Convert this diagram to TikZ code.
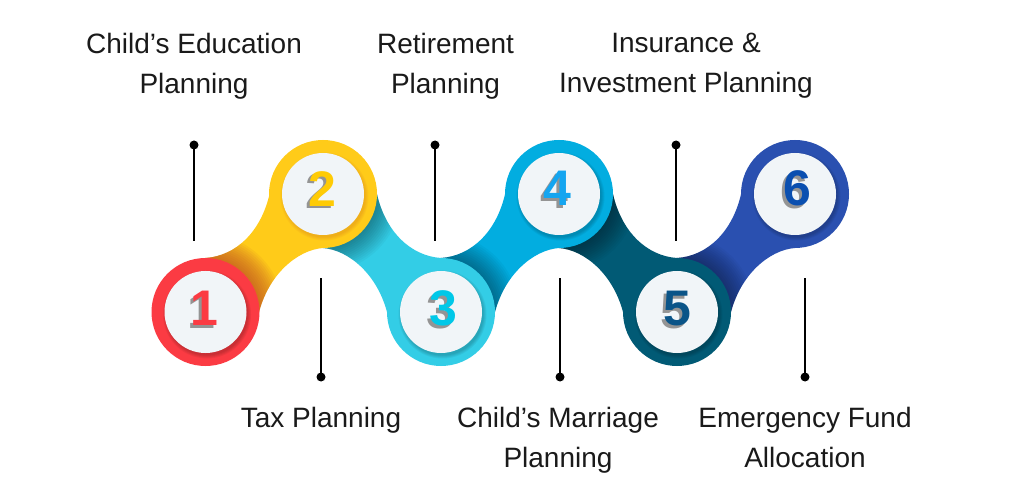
\documentclass[tikz,border=0pt]{standalone}
\usepackage{fontspec}
\setmainfont{Liberation Sans}
\definecolor{cA}{HTML}{FB3B43}
\definecolor{cB}{HTML}{FFCB19}
\definecolor{cC}{HTML}{33CDE6}
\definecolor{cD}{HTML}{02ADE0}
\definecolor{cE}{HTML}{015A75}
\definecolor{cF}{HTML}{2A50B0}
\definecolor{dA}{HTML}{FB3B43}
\definecolor{dB}{HTML}{FFCB05}
\definecolor{dC}{HTML}{00C8E8}
\definecolor{dD}{HTML}{14A5F0}
\definecolor{dE}{HTML}{0A5488}
\definecolor{dF}{HTML}{0A4FB0}
\definecolor{disc}{HTML}{F1F5F8}
\definecolor{ink}{HTML}{1A1A1A}
\definecolor{warmshade}{HTML}{B8402A}
\tikzset{
  x=1pt,y=-1pt,
  label text/.style={font=\fontsize{28}{40}\selectfont,text=ink,align=center,inner sep=0pt},
  leader/.style={draw=black,line width=1.8pt},
  pin dot/.style={circle,fill=black,minimum size=9pt,inner sep=0pt},
  face/.style={circle,fill=disc,minimum size=82pt,inner sep=0pt},
  numeral/.style={font=\fontsize{50}{50}\bfseries\selectfont,inner sep=0pt},
}
\newcommand{\ls}{\rule[-8pt]{0pt}{28pt}}
\newcommand{\linkpath}[3]{(#1,258) .. controls (#1+30*#3,256) and (#1+56*#3,232) .. (#1+64.5*#3,192) -- (#2,194) -- (#2,248) .. controls (#2-26*#3,250) and (#2-55*#3,275) .. (#2-64.5*#3,314) -- (#1,312) -- cycle}
% lower x, upper x, sign, caster x, caster y, fill, shadow colour, shadow opacity
\newcommand{\linkblob}[8]{%
  \fill[#6] \linkpath{#1}{#2}{#3};
  \begin{scope}
    \clip \linkpath{#1}{#2}{#3};
    \foreach \r in {56,58,...,78}{\fill[#7,opacity=#8] (#4,#5) circle[radius=\r];}
  \end{scope}
}
\newcommand{\discshadow}[3]{%
  \foreach \r in {41,42,43,44}{\fill[#3,opacity=0.05] (#1+1.5,#2+2.5) circle[radius=\r];}
}
% name, x, y, digit, colour: one node, the grey offset copy set inside it
\newcommand{\digit}[5]{%
  \node[numeral] (#1) at (#2,#3) {\rlap{\kern-2.5pt\raisebox{-2.5pt}{\textcolor{black!42}{#4}}}\textcolor{#5}{#4}};
}
\begin{document}
\begin{tikzpicture}
\useasboundingbox (0,0) rectangle (1024,502);
\fill[white] (0,0) rectangle (1024,502);
\fill[cF] (795,194) circle[radius=54];
\linkblob{677}{795}{1}{677}{312}{cF}{black}{0.03}
\fill[cE] (677,312) circle[radius=54];
\linkblob{677}{559}{-1}{559}{194}{cE}{black}{0.03}
\fill[cD] (559,194) circle[radius=54];
\linkblob{441}{559}{1}{441}{312}{cD}{black}{0.03}
\fill[cC] (441,312) circle[radius=54];
\linkblob{441}{323}{-1}{323}{194}{cC}{black}{0.03}
\fill[cB] (323,194) circle[radius=54];
\linkblob{205.5}{323}{1}{205.5}{312}{cB}{warmshade}{0.07}
\fill[cA] (205.5,312) circle[radius=54];
% shadows under faces
\discshadow{205.5}{312}{black}
\discshadow{323}{194}{warmshade}
\discshadow{441}{312}{black}
\discshadow{559}{194}{black}
\discshadow{677}{312}{black}
\discshadow{795}{194}{black}
% faces
\node[face] (f1) at (205.5,312) {};
\node[face] (f2) at (323,194) {};
\node[face] (f3) at (441,312) {};
\node[face] (f4) at (559,194) {};
\node[face] (f5) at (677,312) {};
\node[face] (f6) at (795,194) {};
\digit{n1}{204}{310}{1}{dA}
\digit{n2}{322}{190}{2}{dB}
\digit{n3}{443}{310}{3}{dC}
\digit{n4}{557}{190}{4}{dD}
\digit{n5}{677}{310}{5}{dE}
\digit{n6}{797}{190}{6}{dF}
% leaders
\node[pin dot] (p1) at (194,145) {};
\node[pin dot] (p2) at (321,377) {};
\node[pin dot] (p3) at (435,145) {};
\node[pin dot] (p4) at (560,377) {};
\node[pin dot] (p5) at (676,145) {};
\node[pin dot] (p6) at (805,377) {};
\coordinate (e1) at (194,241);
\coordinate (e2) at (321,278);
\coordinate (e3) at (435,241);
\coordinate (e4) at (560,278);
\coordinate (e5) at (676,241);
\coordinate (e6) at (805,278);
\foreach \i in {1,...,6}{\draw[leader] (p\i.center) -- (e\i);}
% labels
\node[label text] (t1) at (194,67) {\ls Child’s Education\\\ls Planning};
\node[label text] (t2) at (321,421) {\ls Tax Planning};
\node[label text] (t3) at (445.5,67) {\ls Retirement\\\ls Planning};
\node[label text] (t4) at (558,441) {\ls Child’s Marriage\\\ls Planning};
\node[label text] (t5) at (686,67) {\ls Insurance \&\\\ls Investment Planning};
\node[label text] (t6) at (805,441) {\ls Emergency Fund\\\ls Allocation};
\end{tikzpicture}
\end{document}
